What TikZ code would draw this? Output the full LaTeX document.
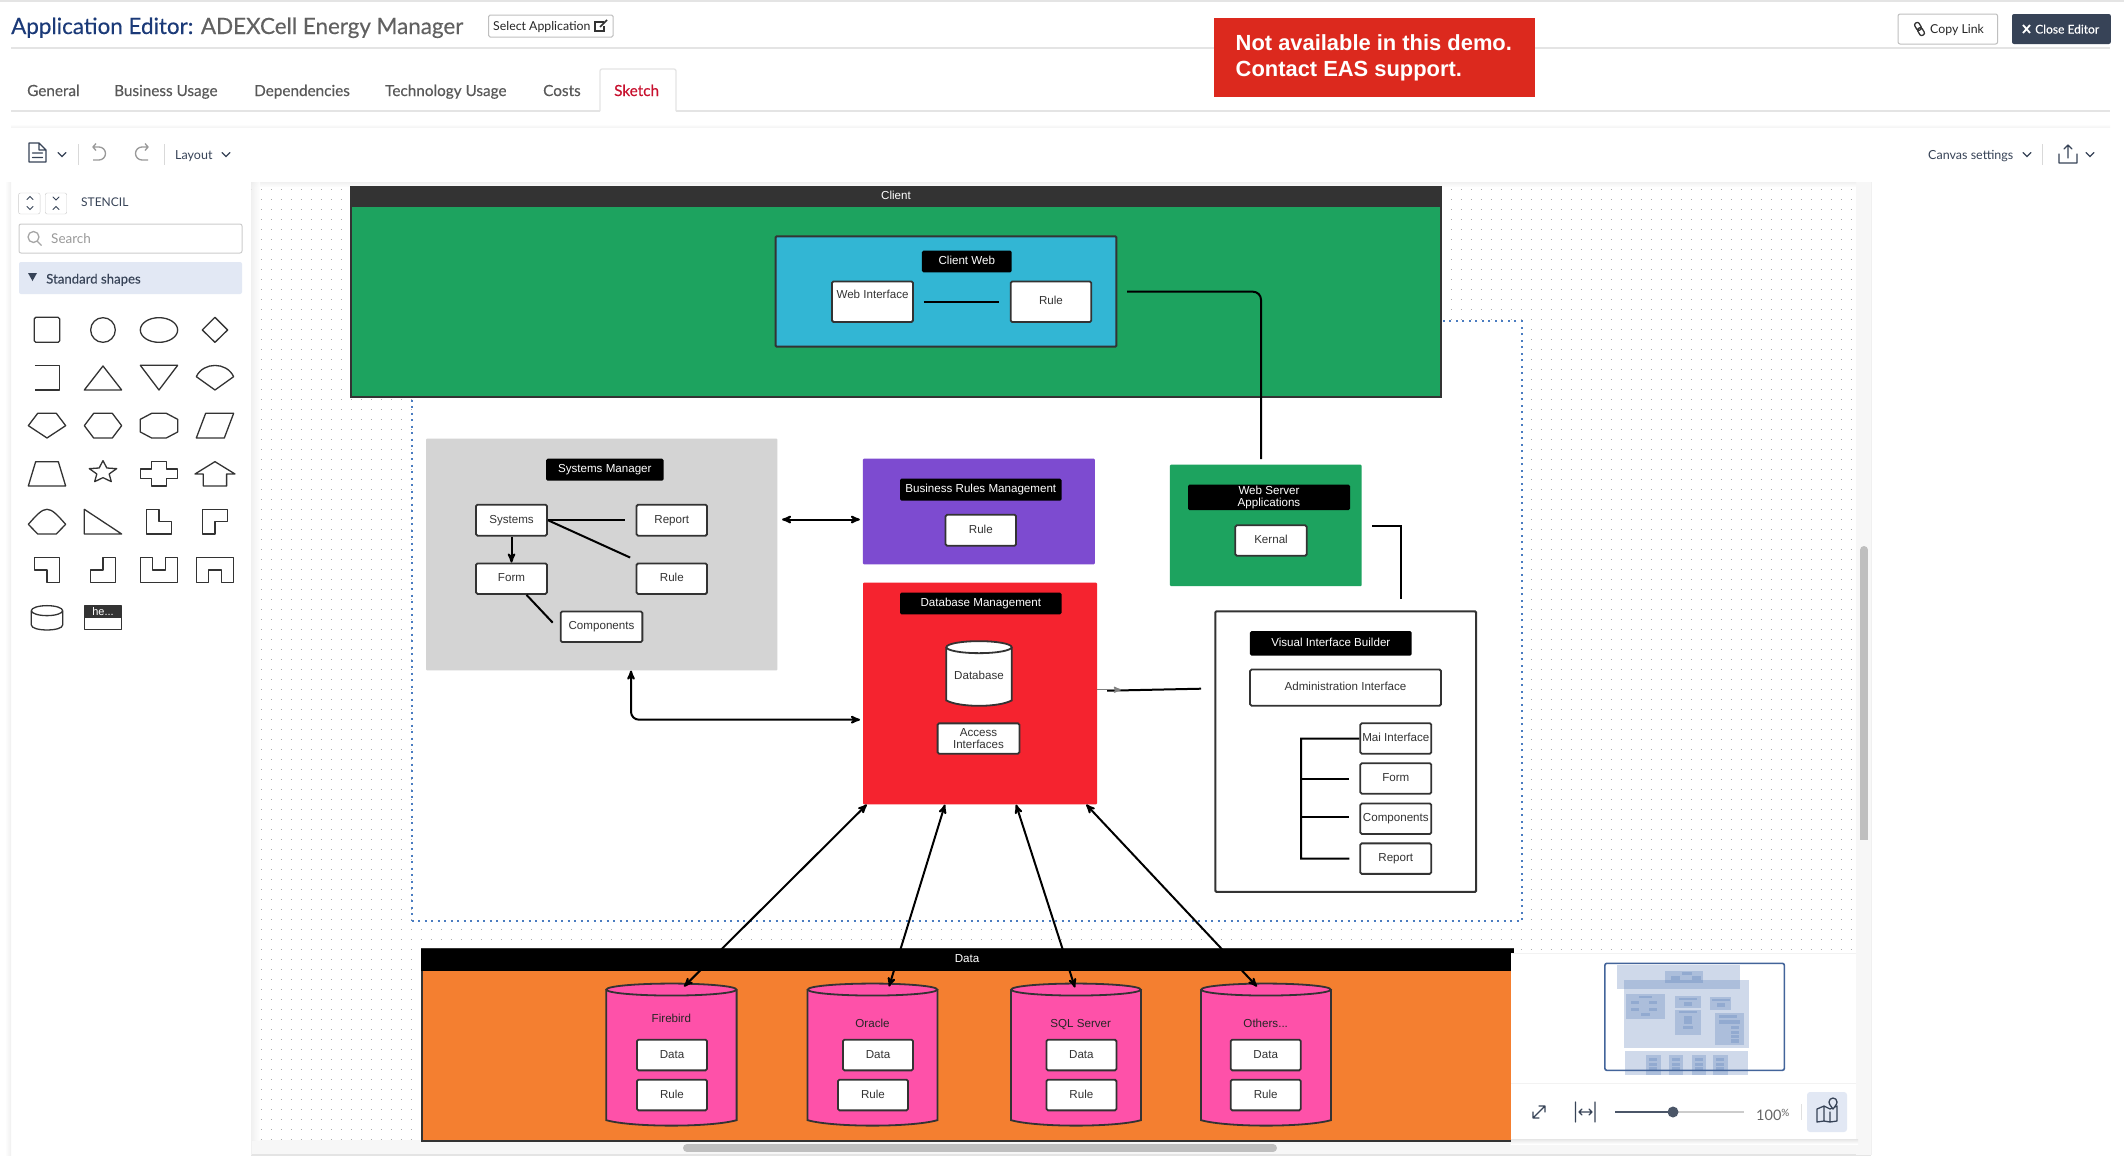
\documentclass[tikz,border=0pt]{standalone}
\usepackage{fontspec}
\setmainfont{Lato}
\newfontfamily\heavyfont[FakeBold=0.3]{Lato}
\newfontfamily\diagfont{Liberation Sans}
\usetikzlibrary{arrows}

\definecolor{navy}{HTML}{1B3A78}
\definecolor{slate}{HTML}{374357}
\definecolor{ink}{HTML}{333333}
\definecolor{softline}{HTML}{E4E4E4}
\definecolor{paleblue}{HTML}{E2E8F4}
\definecolor{clientgreen}{HTML}{1DA35F}
\definecolor{webblue}{HTML}{32B6D4}
\definecolor{greypanel}{HTML}{D4D4D4}
\definecolor{purplepanel}{HTML}{7D4BD0}
\definecolor{redpanel}{HTML}{F5232F}
\definecolor{orangepanel}{HTML}{F47F30}
\definecolor{pinkdb}{HTML}{FE51A9}
\definecolor{noticered}{HTML}{DC291E}
\definecolor{tabred}{HTML}{C8102E}
\definecolor{guideblue}{HTML}{4A7CC0}
\definecolor{mapblue}{HTML}{4F76B5}

% name, x, y, width, height, fill
\newcommand{\dbcan}[6]{
 \node[minimum width=#4pt,minimum height=#5pt,inner sep=0pt] (#1) at (#2,#3) {};
 \draw[can line,fill=#6] ([yshift=-6pt]#1.north west) -- ([yshift=5.5pt]#1.south west)
   .. controls ([xshift={0.2*#4 pt},yshift=-1.8pt]#1.south west) and ([xshift={-0.2*#4 pt},yshift=-1.8pt]#1.south east)
   .. ([yshift=5.5pt]#1.south east) -- ([yshift=-6pt]#1.north east);
 \draw[can line,fill=#6] ([yshift=-6pt]#1.north) ellipse [x radius=#4/2,y radius=6];
}

\begin{document}
\begin{tikzpicture}[x=1pt,y=-1pt,>=stealth',
  diag font/.style={font=\diagfont\fontsize{11.6}{12}\selectfont},
  one line/.style={text height=8.5pt,text depth=2.5pt},
  panel/.style={inner sep=0pt,rounded corners=1pt},
  framed panel/.style={panel,draw=ink,line width=2pt},
  title bar/.style={diag font,fill=black,text=white,inner sep=0pt,rounded corners=1.5pt,align=center},
  item box/.style={diag font,draw=ink,line width=1.8pt,fill=white,text=ink,inner sep=0pt,rounded corners=1.5pt,align=center},
  can line/.style={draw=ink,line width=1.8pt},
  link/.style={line width=2pt,draw=black},
  tip link/.style={link,->},
  both link/.style={link,<->},
  griddot/.style={draw=black!32,line width=1pt,dash pattern=on 1pt off 9pt},
  ui text/.style={inner sep=0pt,anchor=base west,text=black!65},
  tab text/.style={ui text,font=\heavyfont\fontsize{15.3}{18}\selectfont},
  ui line/.style={draw=softline,line width=1.3pt},
  glyph/.style={draw=ink,line width=1.3pt,line join=round},
  icon/.style={draw=slate,line width=1.3pt,line cap=round,line join=round},
  chevron/.style={draw=slate,line width=1.3pt,line cap=round},
  mapbox/.style={fill=mapblue,fill opacity=.27}]

 \useasboundingbox (0,0) rectangle (2124,1170);
 \fill[white] (0,0) rectangle (2124,1170);

 % page head
 \fill[softline] (0,0) rectangle (2124,1.5);
 \draw[ui line] (11,48) -- (2110,48);
 \node[ui text,font=\heavyfont\fontsize{22.4}{26}\selectfont] (apptitle) at (11,34)
   {\textcolor{navy}{Application Editor:} \textcolor{black!62}{ADEXCell Energy Manager}};
 \node[draw=black!25,line width=1pt,rounded corners=1.5pt,minimum width=124.5pt,minimum height=22pt,inner sep=0pt] (selectapp) at (550.8,26) {};
 \node[ui text,text=black!85,font=\fontsize{12.3}{14}\selectfont] (selecttext) at (493,30.5) {Select Application};
 \draw[draw=ink,line width=1.2pt] (604,22) -- (595,22) -- (595,31) -- (604,31) -- (604,26);
 \draw[draw=ink,line width=1.6pt] (600,27) -- (607,20);

 \node[fill=noticered,minimum width=321.5pt,minimum height=79pt,inner sep=0pt] (notice) at (1374.3,57.5) {};
 \node[inner sep=0pt,anchor=base west,text=white,font=\diagfont\bfseries\fontsize{21.9}{26}\selectfont] (noticeone) at (1235.5,50.5) {Not available in this demo.};
 \node[inner sep=0pt,anchor=base west,text=white,font=\diagfont\bfseries\fontsize{21.9}{26}\selectfont] (noticetwo) at (1235.5,76.5) {Contact EAS support.};

 \node[draw=black!25,line width=1pt,rounded corners=2pt,minimum width=99.5pt,minimum height=30pt,inner sep=0pt] (copylink) at (1947.8,29) {};
 \node[ui text,text=black!85,font=\fontsize{12.3}{14}\selectfont] (copytext) at (1930,33.5) {Copy Link};
 \draw[draw=ink,line width=1.3pt,rounded corners=2pt,rotate around={-60:(1919.5,29)}] (1912.5,26.5) rectangle (1920.5,31.5) (1918.5,26.5) rectangle (1926.5,31.5);
 \node[fill=slate,rounded corners=2pt,minimum width=98.8pt,minimum height=30pt,inner sep=0pt] (closeeditor) at (2061.4,29) {};
 \draw[draw=white,line width=1.8pt] (2023,25) -- (2030,33) (2030,25) -- (2023,33);
 \node[ui text,text=white,font=\heavyfont\fontsize{12}{14}\selectfont] (closetext) at (2035,33.5) {Close Editor};

 % tabs
 \draw[ui line] (11,111) -- (2110,111);
 \fill[white] (600,69) rectangle (676,112);
 \draw[ui line,rounded corners=2pt] (600,111) -- (600,69) -- (676,69) -- (676,111);
 \node[tab text] (tabgeneral) at (27,96) {General};
 \node[tab text] (tabbusiness) at (114,96) {Business Usage};
 \node[tab text] (tabdepend) at (254,96) {Dependencies};
 \node[tab text] (tabtech) at (385,96) {Technology Usage};
 \node[tab text] (tabcosts) at (543,96) {Costs};
 \node[tab text,text=tabred] (tabsketch) at (614,96) {Sketch};

 % tool bar
 \shade[top color=white,bottom color=black!4] (11,124) rectangle (2110,127);
 \draw[icon,line width=1.4pt] (29,143) -- (39,143) -- (46,150) -- (46,162) -- (29,162) -- cycle (39,143) -- (39,150) -- (46,150) (32.5,153) -- (42.5,153) (32.5,157.5) -- (42.5,157.5);
 \draw[chevron] (58,152.5) -- (62,156.5) -- (66,152.5);
 \draw[draw=black!15] (78,144) -- (78,165) (164,144) -- (164,165);
 \draw[draw=black!40,line width=1.3pt] (96,143.5) -- (93,147) -- (96,150.5) (93,147) -- (99,147) arc[start angle=-90,end angle=90,radius=6.5] -- (93,160);
 \draw[draw=black!40,line width=1.3pt] (145,143.5) -- (148,147) -- (145,150.5) (148,147) -- (142,147) arc[start angle=270,end angle=90,radius=6.5] -- (148,160);
 \node[ui text,text=slate,font=\fontsize{12.5}{14}\selectfont] (layouttext) at (175,159) {Layout};
 \draw[chevron] (222,152.5) -- (226,156.5) -- (230,152.5);
 \node[ui text,text=slate,font=\fontsize{12.5}{14}\selectfont] (canvastext) at (1928,159) {Canvas settings};
 \draw[chevron] (2023,152.5) -- (2027,156.5) -- (2031,152.5);
 \draw[draw=black!15] (2042,144) -- (2042,165);
 \draw[icon] (2059,154) -- (2059,163) -- (2077,163) -- (2077,154) (2068,158) -- (2068,145) (2064,149) -- (2068,145) -- (2072,149);
 \draw[chevron] (2086,152.5) -- (2090,156.5) -- (2094,152.5);

 % canvas
 \foreach \r in {189,199,...,1139}
   \draw[griddot] (251,\r) -- (1852,\r);
 \fill[black!3] (251,1140) rectangle (1871,1155);
 \draw[ui line] (251,1155) -- (1871,1155);
 \fill[black!3] (1856,182) rectangle (1871,1155);
 \fill[black!25] (1860,550) rectangle (1868,840);
 \fill[black!25] (1864,550) circle (4);
 \fill[black!25] (687,1144) rectangle (1273,1152);
 \fill[black!25] (687,1148) circle (4) (1273,1148) circle (4);
 \shade[top color=black!7,bottom color=white,opacity=.8] (251,182) rectangle (1856,187);
 \shade[left color=black!7,right color=white,opacity=.8] (251,182) rectangle (260,1140);

 \begin{scope}[yshift=-0.7pt]
 % outer guide
 \node[draw=guideblue,fill=white,line width=2pt,dash pattern=on 2pt off 4.5pt,minimum width=1110.2pt,minimum height=600.2pt,inner sep=0pt] (guide) at (966.6,620.6) {};

 % client
 \node[framed panel,fill=clientgreen,rounded corners=0pt,minimum width=1090pt,minimum height=209pt] (client) at (896,291.5) {};
 \node[fill=ink,text=white,diag font,one line,inner sep=0pt,minimum width=1092pt,minimum height=21pt] (clientbar) at (896,195.5) {Client};
 \node[framed panel,fill=webblue,minimum width=340.6pt,minimum height=110.3pt] (clientweb) at (946,290.8) {};
 \node[title bar,one line,minimum width=89.7pt,minimum height=21.7pt] (clientwebtitle) at (966.8,260.8) {Client Web};
 \node[item box,text height=8.5pt,text depth=15pt,minimum width=81pt,minimum height=40.6pt] (webif) at (872.5,301) {Web Interface};
 \node[item box,one line,minimum width=80.6pt,minimum height=40.6pt] (webrule) at (1051,301) {Rule};
 \draw[link] ([xshift=10pt]webif.east) -- ([xshift=-10.7pt]webrule.west);

 % systems manager
 \node[panel,fill=greypanel,minimum width=351.4pt,minimum height=231.7pt] (sysmgr) at (601.7,553.8) {};
 \node[title bar,one line,minimum width=117.5pt,minimum height=22pt] (sysmgrtitle) at (604.8,469) {Systems Manager};
 \node[item box,one line,minimum width=71pt,minimum height=31pt] (systems) at (511.5,519.5) {Systems};
 \node[item box,one line,minimum width=70.5pt,minimum height=31pt] (report) at (671.8,519.5) {Report};
 \node[item box,one line,minimum width=71pt,minimum height=30.5pt] (form) at (511.5,578) {Form};
 \node[item box,one line,minimum width=70.5pt,minimum height=30.5pt] (sysrule) at (671.8,578) {Rule};
 \node[item box,one line,minimum width=81.7pt,minimum height=30.5pt] (components) at (601.5,626) {Components};
 \draw[link] (systems.east) -- ([xshift=-10.5pt]report.west);
 \draw[link] (systems.east) -- ([xshift=-5.5pt,yshift=5pt]sysrule.north west);
 \draw[tip link] (systems.south) -- (form.north);
 \draw[link] ([xshift=15pt]form.south) -- ([xshift=-7pt,yshift=4pt]components.west);

 % business rules
 \node[panel,fill=purplepanel,minimum width=231.9pt,minimum height=105.7pt] (bizrules) at (978.8,510.8) {};
 \node[title bar,one line,minimum width=161.6pt,minimum height=22pt] (bizrulestitle) at (980.8,489) {Business Rules Management};
 \node[item box,one line,minimum width=70.5pt,minimum height=31pt] (bizrule) at (980.8,529.5) {Rule};
 \draw[both link] ([xshift=4.5pt,yshift=35pt]sysmgr.east) -- ([xshift=-2.8pt,yshift=-8pt]bizrules.west);

 % database management
 \node[panel,fill=redpanel,minimum width=234pt,minimum height=221.7pt] (dbmgmt) at (980,692.8) {};
 \node[title bar,one line,minimum width=161.6pt,minimum height=21.6pt] (dbmgmttitle) at (980.8,602.8) {Database Management};
 \dbcan{database}{979}{672.8}{65.2}{64.3}{white}
 \node[diag font,one line,text=ink,inner sep=0pt] (databasename) at (979,675.7) {Database};
 \node[item box,minimum width=81.8pt,minimum height=30.3pt] (access) at (978.5,737.8) {Access\\Interfaces};
 \coordinate (dbin) at (860,719);
 \draw[both link,rounded corners=8pt] (dbin) -| ([xshift=29.3pt]sysmgr.south);

 % web server
 \node[panel,fill=clientgreen,minimum width=191.7pt,minimum height=121.4pt] (webserver) at (1265.8,524.7) {};
 \node[title bar,minimum width=162pt,minimum height=25.5pt] (webservertitle) at (1269,496.7) {Web Server\\Applications};
 \node[item box,one line,minimum width=71.4pt,minimum height=30.5pt] (kernal) at (1271,539.8) {Kernal};
 \coordinate (clientout) at (1127,291);
 \coordinate (webin) at (1261,458.5);
 \draw[link,rounded corners=8pt] (clientout) -| (webin);

 % visual interface builder
 \node[framed panel,fill=white,minimum width=260.7pt,minimum height=280.3pt] (vib) at (1345.7,750.9) {};
 \node[title bar,one line,minimum width=161.7pt,minimum height=24.6pt] (vibtitle) at (1330.8,642.7) {Visual Interface Builder};
 \node[item box,one line,minimum width=191pt,minimum height=36.2pt] (admin) at (1345.5,686.9) {Administration Interface};
 \node[item box,one line,minimum width=71pt,minimum height=30.5pt] (mainif) at (1395.8,737.8) {Mai Interface};
 \node[item box,one line,minimum width=71pt,minimum height=30.5pt] (vibform) at (1395.8,777.8) {Form};
 \node[item box,one line,minimum width=71pt,minimum height=30.5pt] (vibcomp) at (1395.8,818) {Components};
 \node[item box,one line,minimum width=71pt,minimum height=30.5pt] (vibreport) at (1395.8,857.9) {Report};
 \coordinate (treetop) at (1301,738);
 \coordinate (treebottom) at (1301,857.8);
 \draw[link] (mainif.west) -- (treetop) -- (treebottom) -- ([xshift=-10pt]vibreport.west);
 \draw[link] (1301,777.8) -- ([xshift=-10pt]vibform.west);
 \draw[link] (1301,816) -- ([xshift=-10pt,yshift=2pt]vibcomp.west);
 \coordinate (webout) at (1372,525);
 \coordinate (vibin) at (1401,598.4);
 \draw[link] (webout) -| (vibin);
 \coordinate (dbedge) at (1097,689);
 \coordinate (dbgrey) at (1121,689);
 \coordinate (dbline) at (1107,690);
 \coordinate (vibleft) at (1201,688);
 \draw[link] (dbline) -- (vibleft);
 \draw[draw=black!50,line width=1.5pt,->] (dbedge) -- (dbgrey);

 % data
 \node[framed panel,fill=orangepanel,rounded corners=0pt,minimum width=1091pt,minimum height=192pt] (data) at (967,1044) {};
 \node[fill=black,text=white,diag font,one line,inner sep=0pt,minimum width=1093pt,minimum height=22pt] (databar) at (967,959) {Data};
 \dbcan{firebird}{671.4}{1053.9}{130}{141.7}{pinkdb}
 \dbcan{oracle}{872.5}{1053.9}{129.5}{141.7}{pinkdb}
 \dbcan{sqlserver}{1076}{1053.9}{129.5}{141.7}{pinkdb}
 \dbcan{others}{1266}{1053.9}{129.5}{141.7}{pinkdb}
 \node[diag font,one line,text=black!85,inner sep=0pt] (firebirdname) at (671.4,1019) {Firebird};
 \node[diag font,one line,text=black!85,inner sep=0pt] (oraclename) at (872.5,1023.7) {Oracle};
 \node[diag font,one line,text=black!85,inner sep=0pt] (sqlname) at (1080.7,1023.7) {SQL Server};
 \node[diag font,one line,text=black!85,inner sep=0pt] (othersname) at (1265.7,1023.7) {Others...};
 \node[item box,one line,minimum width=70pt,minimum height=30.7pt] (firebirddata) at (672,1054.3) {Data};
 \node[item box,one line,minimum width=70pt,minimum height=30.7pt] (firebirdrule) at (672,1094.3) {Rule};
 \node[item box,one line,minimum width=70pt,minimum height=30.7pt] (oracledata) at (878,1054.3) {Data};
 \node[item box,one line,minimum width=70pt,minimum height=30.7pt] (oraclerule) at (873,1094.3) {Rule};
 \node[item box,one line,minimum width=70pt,minimum height=30.7pt] (sqldata) at (1081.4,1054.3) {Data};
 \node[item box,one line,minimum width=70pt,minimum height=30.7pt] (sqlrule) at (1081.4,1094.3) {Rule};
 \node[item box,one line,minimum width=70pt,minimum height=30.7pt] (othersdata) at (1265.7,1054.3) {Data};
 \node[item box,one line,minimum width=70pt,minimum height=30.7pt] (othersrule) at (1265.7,1094.3) {Rule};
 \draw[both link] ([xshift=4pt]dbmgmt.south west) -- ([xshift=12.6pt,yshift=-3pt]firebird.north);
 \draw[both link] ([xshift=-35pt]dbmgmt.south) -- ([xshift=16.5pt,yshift=-3pt]oracle.north);
 \draw[both link] ([xshift=36pt]dbmgmt.south) -- ([xshift=-1pt,yshift=-4pt]sqlserver.north);
 \draw[both link] ([xshift=-11pt]dbmgmt.south east) -- ([xshift=-9pt,yshift=-3pt]others.north);
 \end{scope}

 % minimap panel
 \shade[top color=black!10,bottom color=white] (1511,1139) rectangle (1858,1144);
 \node[fill=white,minimum width=345pt,minimum height=186pt,inner sep=0pt] (minimap) at (1683.5,1046) {};
 \draw[draw=black!5] (1511,953) -- (1856,953) (1511,1083) -- (1856,1083);
 \begin{scope}[shift={(1480,901)},x=0.4107pt,y=-0.3333pt]
  \foreach \a/\b/\c/\d in {334/192/633/263,351/237/655/440,353/451/653/521,450/210/543/245,492/213/516/221,466/225/487/237,516/225/538/237,
    355/279/450/355,387/285/419/291,368/300/387/310,412/300/431/310,368/320/387/330,412/320/431/330,392/336/414/345,
    475/285/538/320,485/291/528/297,497/303/517/314,475/327/538/402,485/331/528/336,497/345/515/368,495/375/518/384,
    560/288/611/327,565/294/609/300,577/306/597/318,572/336/643/432,582/342/626/351,582/357/633/369,
    611/375/631/384,611/389/631/398,611/402/631/411,611/415/631/426,
    404/463/441/521,460/463/494/521,516/463/550/521,567/463/604/521,
    412/471/432/481,412/485/432/494,412/498/432/508,467/471/487/481,467/485/487/494,467/498/487/508,
    524/471/544/481,524/485/544/494,524/498/544/508,575/471/595/481,575/485/595/494,575/498/595/508}
    \fill[mapbox] (\a,\b) rectangle (\c,\d);
  \draw[draw=mapblue!85!black,line width=1.6pt,rounded corners=2pt] (304,187) rectangle (741,508);
 \end{scope}
 \draw[icon] (1533,1118) -- (1545,1106) (1539,1106) -- (1545,1106) -- (1545,1112) (1533,1112) -- (1533,1118) -- (1539,1118);
 \draw[icon] (1575.5,1102) -- (1575.5,1122) (1595,1102) -- (1595,1122) (1579,1112) -- (1592,1112) (1582,1109) -- (1579,1112) -- (1582,1115) (1589,1109) -- (1592,1112) -- (1589,1115);
 \draw[draw=black!20,line width=2pt] (1615,1112) -- (1744,1112);
 \draw[draw=slate!90,line width=2.5pt] (1615,1112) -- (1673,1112);
 \fill[slate!90] (1673,1112) circle (5.5);
 \node[ui text,text=black!60,font=\fontsize{14.5}{16}\selectfont] (zoomtext) at (1756,1120) {100\raisebox{4pt}{\fontsize{10}{12}\selectfont\%}};
 \draw[draw=black!12] (1800.7,1104) -- (1800.7,1120);
 \node[fill=paleblue,rounded corners=3pt,minimum width=40pt,minimum height=40pt,inner sep=0pt] (mapbutton) at (1827,1112) {};
 \draw[icon] (1817,1109) -- (1824,1106) -- (1830,1109) -- (1837,1106) -- (1837,1121) -- (1830,1122) -- (1824,1121) -- (1817,1122) -- cycle (1824,1106) -- (1824,1121) (1830,1112) -- (1830,1122);
 \draw[icon,fill=paleblue] (1833,1109) .. controls (1829,1104) and (1829,1103) .. (1829,1102) arc[start angle=180,end angle=360,radius=4] .. controls (1837,1103) and (1837,1104) .. (1833,1109);

 % side panels
 \fill[white] (11,182) rectangle (251,1155);
 \shade[left color=white,right color=black!6] (5,182) rectangle (11,1155);
 \draw[draw=black!6] (251,190) -- (251,1155);
 \draw[draw=black!6] (1871,182) -- (1871,1155);

 % stencil
 \node[draw=black!20,rounded corners=2pt,minimum width=21.5pt,minimum height=21pt,inner sep=0pt] (stencilsort) at (29.3,203.5) {};
 \node[draw=black!20,rounded corners=2pt,minimum width=21.5pt,minimum height=21pt,inner sep=0pt] (stencilclose) at (56,203.5) {};
 \draw[chevron,line width=.9pt] (27,199.5) -- (30,196.5) -- (33,199.5) (27,206.5) -- (30,209.5) -- (33,206.5);
 \draw[chevron,line width=.9pt] (53,197) -- (56,200) -- (59,197) (53,209.5) -- (56,206.5) -- (59,209.5);
 \node[ui text,text=slate,font=\fontsize{12}{14}\selectfont] (stenciltext) at (81,206) {STENCIL};
 \node[draw=black!20,line width=1pt,rounded corners=2pt,minimum width=223pt,minimum height=29pt,inner sep=0pt] (searchbox) at (130.5,238.5) {};
 \draw[draw=black!35,line width=1.3pt] (33.5,237) circle (5.5) (37.5,241.5) -- (41.5,245.5);
 \node[ui text,text=black!40,font=\fontsize{13.5}{16}\selectfont] (searchtext) at (51,243.5) {Search};
 \node[fill=paleblue,rounded corners=2pt,minimum width=223pt,minimum height=32pt,inner sep=0pt] (shapesbar) at (130.5,278) {};
 \fill[slate] (28,273) -- (37,273) -- (32.5,281) -- cycle;
 \node[ui text,text=slate,font=\heavyfont\fontsize{13.2}{14}\selectfont] (shapestext) at (46,283.5) {Standard shapes};
 \begin{scope}[shift={(0,280)},x=0.3333pt,y=-0.3333pt]
  \draw[glyph,rounded corners=1.5pt] (103,112) rectangle (179,187);
  \draw[glyph] (309,150) circle (37);
  \draw[glyph] (477,150) ellipse (56 and 37);
  \draw[glyph] (645,112) -- (683,150) -- (645,187) -- (607,150) -- cycle;
  \draw[glyph] (105,256) -- (179,256) -- (179,330) -- (105,330);
  \draw[glyph] (309,258) -- (365,330) -- (253,330) -- cycle;
  \draw[glyph] (421,256) -- (533,256) -- (477,330) -- cycle;
  \draw[glyph] (589,290) .. controls (610,245) and (680,245) .. (701,290) -- (645,330) -- cycle;
  \draw[glyph] (85,437) -- (113,400) -- (169,400) -- (197,437) -- (141,474) -- cycle;
  \draw[glyph] (253,437) -- (281,400) -- (337,400) -- (365,437) -- (337,474) -- (281,474) -- cycle;
  \draw[glyph] (421,418) -- (455,400) -- (499,400) -- (533,418) -- (533,456) -- (499,474) -- (455,474) -- (421,456) -- cycle;
  \draw[glyph] (617,400) -- (701,400) -- (673,474) -- (589,474) -- cycle;
  \draw[glyph] (107,545) -- (175,545) -- (197,618) -- (85,618) -- cycle;
  \draw[glyph] (309,542) -- (320.5,564) -- (350,566) -- (327.5,582) -- (334,605) -- (309,593) -- (284,605) -- (290.5,582) -- (268,566) -- (297.5,564) -- cycle;
  \draw[glyph] (455,545) -- (499,545) -- (499,567) -- (533,567) -- (533,596) -- (499,596) -- (499,618) -- (455,618) -- (455,596) -- (421,596) -- (421,567) -- (455,567) -- cycle;
  \draw[glyph] (645,545) -- (705,582) -- (680,582) -- (680,618) -- (610,618) -- (610,582) -- (585,582) -- cycle;
  \draw[glyph] (85,733) .. controls (110,705) and (125,688) .. (141,688) .. controls (157,688) and (172,705) .. (197,733) -- (169,762) -- (113,762) -- cycle;
  \draw[glyph] (253,688) -- (253,762) -- (365,762) -- cycle;
  \draw[glyph] (440,688) -- (477,688) -- (477,725) -- (515,725) -- (515,762) -- (440,762) -- cycle;
  \draw[glyph] (608,688) -- (683,688) -- (683,725) -- (645,725) -- (645,762) -- (608,762) -- cycle;
  \draw[glyph] (103,832) -- (179,832) -- (179,907) -- (141,907) -- (141,870) -- (103,870) -- cycle;
  \draw[glyph] (309,832) -- (347,832) -- (347,907) -- (271,907) -- (271,870) -- (309,870) -- cycle;
  \draw[glyph] (421,832) -- (458,832) -- (458,870) -- (496,870) -- (496,832) -- (533,832) -- (533,907) -- (421,907) -- cycle;
  \draw[glyph] (589,832) -- (701,832) -- (701,907) -- (664,907) -- (664,870) -- (626,870) -- (626,907) -- (589,907) -- cycle;
  \draw[glyph] (141,992) ellipse (47 and 15);
  \draw[glyph] (94,992) -- (94,1035) .. controls (94,1055) and (188,1055) .. (188,1035) -- (188,992);
  \draw[glyph,fill=white] (253,978) rectangle (365,1048);
  \fill[ink] (253,978) rectangle (365,1014);
 \end{scope}
 \node[inner sep=0pt,text=white,font=\diagfont\fontsize{11}{12}\selectfont] (headertext) at (103,611.5) {he...};

\end{tikzpicture}
\end{document}
